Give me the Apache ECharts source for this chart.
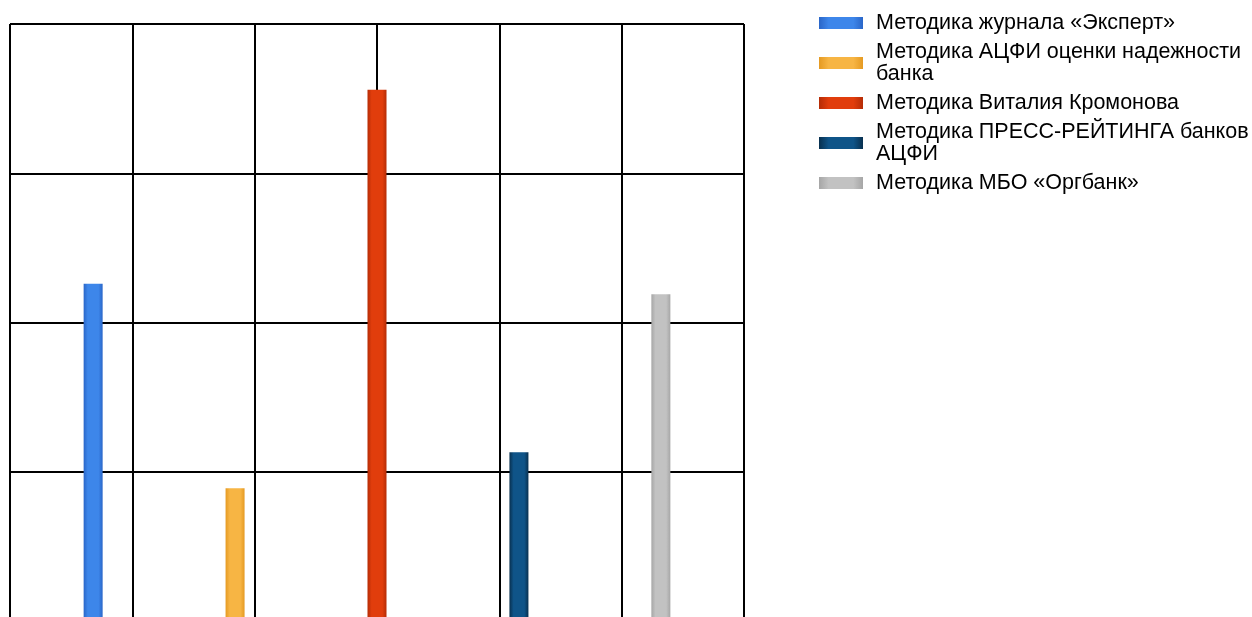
<!DOCTYPE html>
<html>
<head>
<meta charset="utf-8">
<script src="https://cdn.jsdelivr.net/npm/echarts@6/dist/echarts.min.js"></script>
<style>
html,body{margin:0;padding:0;background:#fff;overflow:hidden;}
#chart{width:1252px;height:630px;}
</style>
</head>
<body>
<div id="chart"></div>
<script>
const categories = ['Методики'];
const seriesNames = [
  'Методика журнала «Эксперт»',
  'Методика АЦФИ оценки надежности\nбанка',
  'Методика Виталия Кромонова',
  'Методика ПРЕСС-РЕЙТИНГА банков\nАЦФИ',
  'Методика МБО «Оргбанк»'
];
const seriesValues = [2.26, 0.89, 3.56, 1.13, 2.19];
const seriesColors = [
  ['#2a66c8', '#3d86ea'],
  ['#e59a22', '#f7b544'],
  ['#b52c06', '#e13d0c'],
  ['#08304f', '#0f5488'],
  ['#a6a6a6', '#c2c2c2']
];
const yTicks = [0, 1, 2, 3, 4];
const xColumns = 6;

function grad(c) {
  return new echarts.graphic.LinearGradient(0, 0, 1, 0, [
    {offset: 0, color: c[0]},
    {offset: 0.22, color: c[1]},
    {offset: 0.78, color: c[1]},
    {offset: 1, color: c[0]}
  ]);
}

const chart = echarts.init(document.getElementById('chart'), null, {renderer: 'canvas'});
chart.setOption({
  animation: false,
  backgroundColor: '#ffffff',
  grid: {left: 10, top: 24, width: 734, height: 597, containLabel: false},
  legend: {
    orient: 'vertical',
    left: 819,
    top: 12,
    padding: 0,
    icon: 'rect',
    itemWidth: 44,
    itemHeight: 12,
    itemGap: 7,
    data: seriesNames,
    textStyle: {
      fontFamily: 'Liberation Sans, Arial, sans-serif',
      fontSize: 21.5,
      lineHeight: 22,
      color: '#000',
      padding: [0, 0, 0, 8]
    }
  },
  xAxis: [
    {type: 'category', data: categories, show: false},
    {
      type: 'value', min: 0, max: xColumns, interval: 1, position: 'bottom',
      axisLine: {show: false}, axisTick: {show: false}, axisLabel: {show: false},
      splitLine: {show: true, lineStyle: {color: '#000', width: 2}}
    }
  ],
  yAxis: {
    type: 'value', min: yTicks[0], max: yTicks[yTicks.length - 1], interval: 1,
    axisLine: {show: false}, axisTick: {show: false}, axisLabel: {show: false},
    splitLine: {show: true, lineStyle: {color: '#000', width: 2}}
  },
  series: seriesNames.map((n, i) => ({
    name: n,
    type: 'bar',
    xAxisIndex: 0,
    barWidth: 19,
    barGap: '647%',
    data: [seriesValues[i]],
    itemStyle: {color: grad(seriesColors[i])}
  }))
});
</script>
</body>
</html>
